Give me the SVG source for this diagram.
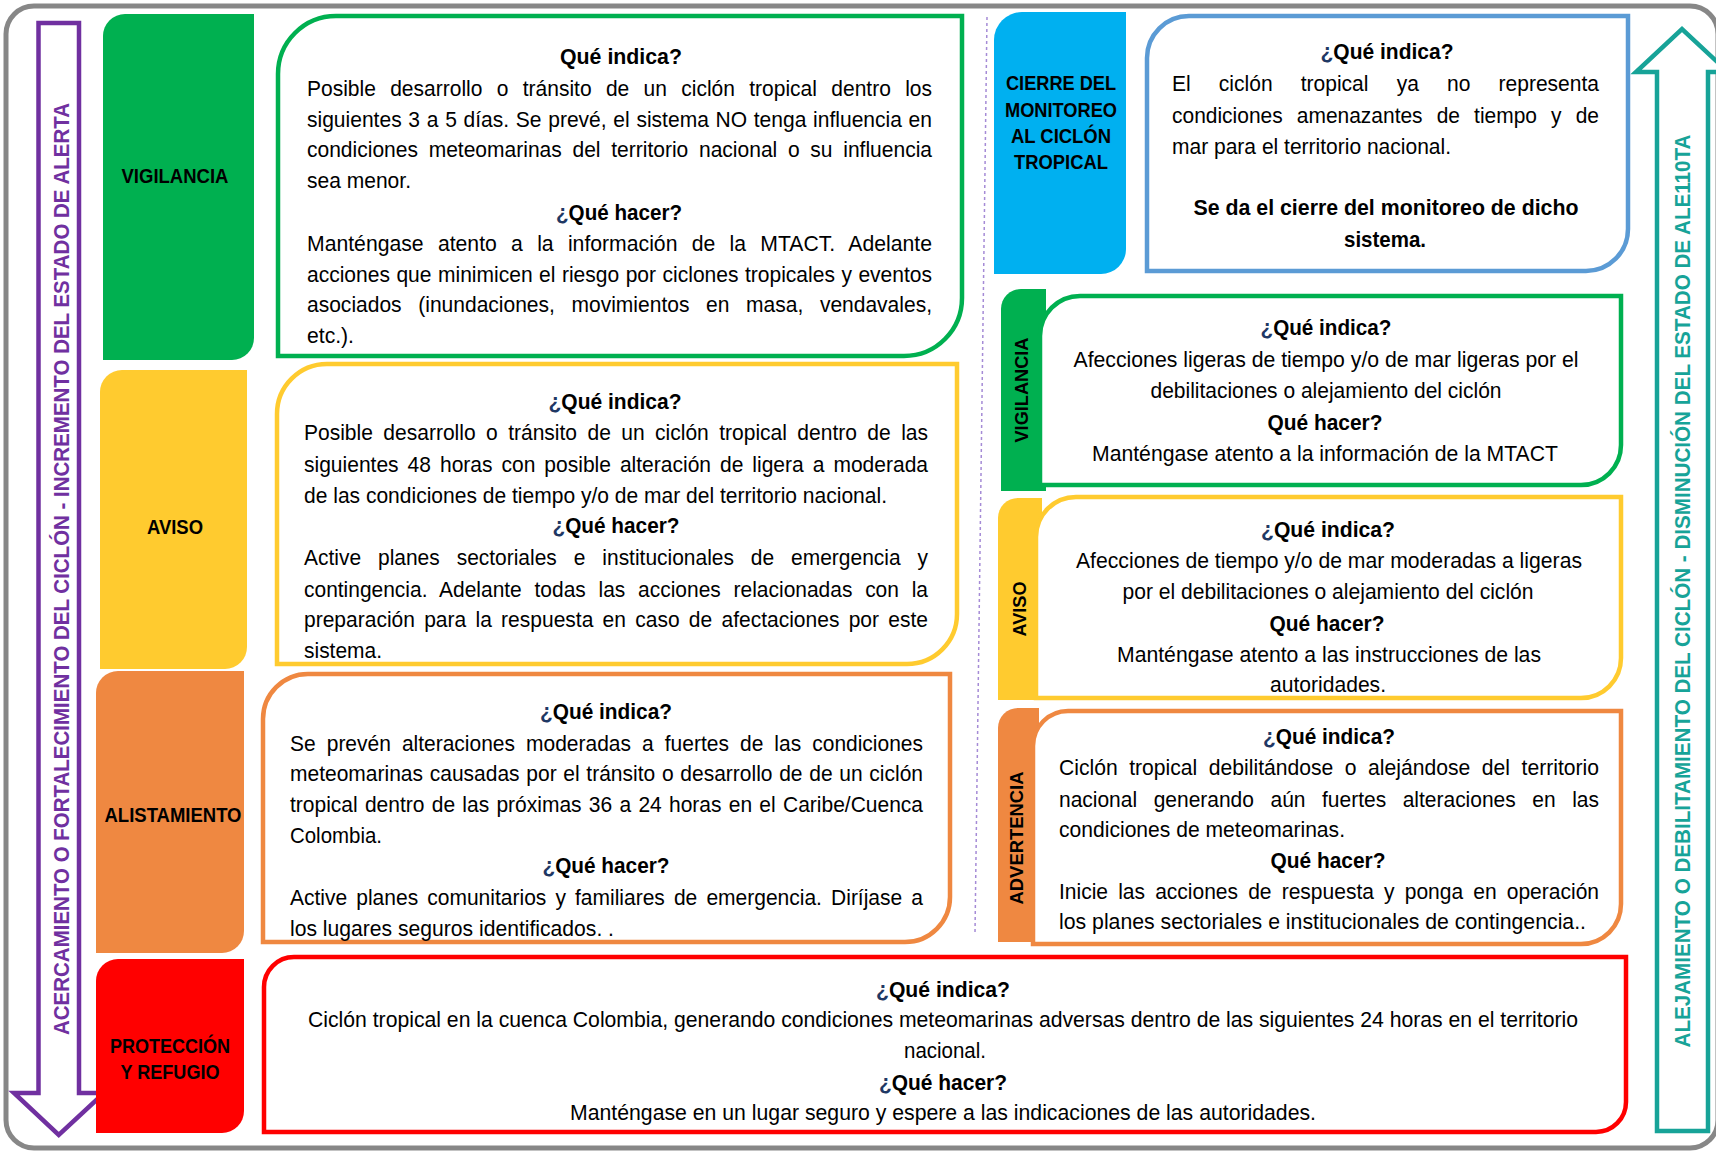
<svg xmlns="http://www.w3.org/2000/svg" width="1716" height="1153" viewBox="0 0 1716 1153">
<style>
.t{font-family:'Liberation Sans Narrow','Liberation Sans',sans-serif;font-size:22px;fill:#000}
.h{font-weight:bold}
.c{text-anchor:middle}
.q{fill:#1F3864}
.tab{font-family:'Liberation Sans Narrow','Liberation Sans',sans-serif;font-size:20px;font-weight:bold;text-anchor:middle;fill:#000}
.vt{font-family:'Liberation Sans',sans-serif;font-size:19px;font-weight:bold;text-anchor:middle;fill:#000}
.side{font-family:'Liberation Sans',sans-serif;font-weight:bold;text-anchor:middle}
.box{fill:#fff;stroke-width:4.5}
</style>
<rect x="0" y="0" width="1716" height="1153" fill="#fff"/>
<rect x="6" y="6" width="1712" height="1142" rx="28" fill="none" stroke="#878787" stroke-width="5"/>

<g id="connectors">
<line x1="987" y1="17" x2="975" y2="933" stroke="#A58BD6" stroke-width="1.5" stroke-dasharray="3 3"/>
</g>

<g id="arrow-incremento">
<path d="M38.5,23 H79 V1093 H104 L58.75,1135 L14,1093 H38.5 Z" fill="#fff" stroke="#7030A0" stroke-width="4.5"/>
<text class="side" font-size="22" fill="#7030A0" transform="translate(68.5,569) rotate(-90)" textLength="932" lengthAdjust="spacingAndGlyphs">ACERCAMIENTO O FORTALECIMIENTO DEL CICLÓN - INCREMENTO DEL ESTADO DE ALERTA</text>
</g>

<g id="arrow-disminucion">
<path d="M1657,1131 V72 H1636 L1682,29 L1728,72 H1708 V1131 Z" fill="#fff" stroke="#17A398" stroke-width="4.5"/>
<text class="side" font-size="22" fill="#17A398" transform="translate(1690,591) rotate(-90)" textLength="913" lengthAdjust="spacingAndGlyphs">ALEJAMIENTO O DEBILITAMIENTO  DEL CICLÓN - DISMINUCIÓN DEL ESTADO DE ALE110TA</text>
</g>

<!-- LEFT: VIGILANCIA -->
<g id="tab-vigilancia">
<path d="M103,36 A22,22 0 0 1 125,14 H254 V338 A22,22 0 0 1 232,360 H103 Z" fill="#00B050"/>
<text class="tab" x="175" y="183" textLength="107" lengthAdjust="spacingAndGlyphs">VIGILANCIA</text>
</g>
<g id="box-vigilancia">
<path class="box" stroke="#00B050" d="M278,74 A58,58 0 0 1 336,16 H962 V298 A58,58 0 0 1 904,356 H278 Z"/>
<text class="t h c" x="621" y="64" textLength="122" lengthAdjust="spacingAndGlyphs">Qué indica?</text>
<text class="t" x="307" y="96" word-spacing="8.9" textLength="625" lengthAdjust="spacingAndGlyphs">Posible desarrollo o tránsito de un ciclón tropical dentro los</text>
<text class="t" x="307" y="127" word-spacing="0.9" textLength="625" lengthAdjust="spacingAndGlyphs">siguientes 3 a 5 días. Se prevé, el sistema NO tenga influencia en</text>
<text class="t" x="307" y="157" word-spacing="5.1" textLength="625" lengthAdjust="spacingAndGlyphs">condiciones meteomarinas del territorio nacional o su influencia</text>
<text class="t" x="307" y="188" textLength="104" lengthAdjust="spacingAndGlyphs">sea menor.</text>
<text class="t h c" x="619" y="220" textLength="126" lengthAdjust="spacingAndGlyphs"><tspan class="q">¿</tspan>Qué hacer?</text>
<text class="t" x="307" y="251" word-spacing="8.7" textLength="625" lengthAdjust="spacingAndGlyphs">Manténgase atento a la información de la MTACT. Adelante</text>
<text class="t" x="307" y="282" word-spacing="0.7" textLength="625" lengthAdjust="spacingAndGlyphs">acciones que minimicen el riesgo por ciclones tropicales y eventos</text>
<text class="t" x="307" y="312" word-spacing="11.3" textLength="625" lengthAdjust="spacingAndGlyphs">asociados (inundaciones, movimientos en masa, vendavales,</text>
<text class="t" x="307" y="343" textLength="47" lengthAdjust="spacingAndGlyphs">etc.).</text>
</g>

<!-- LEFT: AVISO -->
<g id="tab-aviso">
<path d="M100,392 A22,22 0 0 1 122,370 H247 V647 A22,22 0 0 1 225,669 H100 Z" fill="#FFCB2F"/>
<text class="tab" x="175" y="534" textLength="56" lengthAdjust="spacingAndGlyphs">AVISO</text>
</g>
<g id="box-aviso">
<path class="box" stroke="#FFCB2F" d="M277,414 A50,50 0 0 1 327,364 H957 V614 A50,50 0 0 1 907,664 H277 Z"/>
<text class="t h c" x="615" y="409" textLength="133" lengthAdjust="spacingAndGlyphs"><tspan class="q">¿</tspan>Qué indica?</text>
<text class="t" x="304" y="440" word-spacing="4.8" textLength="624" lengthAdjust="spacingAndGlyphs">Posible desarrollo o tránsito de un ciclón tropical dentro de las</text>
<text class="t" x="304" y="472" word-spacing="3.3" textLength="624" lengthAdjust="spacingAndGlyphs">siguientes 48 horas con posible alteración de ligera a moderada</text>
<text class="t" x="304" y="503" textLength="583" lengthAdjust="spacingAndGlyphs">de las condiciones de tiempo y/o de mar del territorio nacional.</text>
<text class="t h c" x="616" y="533" textLength="127" lengthAdjust="spacingAndGlyphs"><tspan class="q">¿</tspan>Qué hacer?</text>
<text class="t" x="304" y="565" word-spacing="11.7" textLength="624" lengthAdjust="spacingAndGlyphs">Active planes sectoriales e institucionales de emergencia y</text>
<text class="t" x="304" y="597" word-spacing="7.3" textLength="624" lengthAdjust="spacingAndGlyphs">contingencia. Adelante todas las acciones relacionadas con la</text>
<text class="t" x="304" y="627" word-spacing="3.6" textLength="624" lengthAdjust="spacingAndGlyphs">preparación para la respuesta en caso de afectaciones por este</text>
<text class="t" x="304" y="658" textLength="78" lengthAdjust="spacingAndGlyphs">sistema.</text>
</g>

<!-- LEFT: ALISTAMIENTO -->
<g id="tab-alistamiento">
<path d="M96,693 A22,22 0 0 1 118,671 H244 V931 A22,22 0 0 1 222,953 H96 Z" fill="#EF8841"/>
<text class="tab" x="173" y="822" textLength="137" lengthAdjust="spacingAndGlyphs">ALISTAMIENTO</text>
</g>
<g id="box-alistamiento">
<path class="box" stroke="#EF8841" d="M263,719 A45,45 0 0 1 308,674 H950 V897 A45,45 0 0 1 905,942 H263 Z"/>
<text class="t h c" x="606" y="719" textLength="132" lengthAdjust="spacingAndGlyphs"><tspan class="q">¿</tspan>Qué indica?</text>
<text class="t" x="290" y="751" word-spacing="5.5" textLength="633" lengthAdjust="spacingAndGlyphs">Se prevén alteraciones moderadas a fuertes de las condiciones</text>
<text class="t" x="290" y="781" word-spacing="0.9" textLength="633" lengthAdjust="spacingAndGlyphs">meteomarinas causadas por el tránsito o desarrollo de de un ciclón</text>
<text class="t" x="290" y="812" word-spacing="1.5" textLength="633" lengthAdjust="spacingAndGlyphs">tropical dentro de las próximas 36 a 24  horas en el Caribe/Cuenca</text>
<text class="t" x="290" y="843" textLength="92" lengthAdjust="spacingAndGlyphs">Colombia.</text>
<text class="t h c" x="606" y="873" textLength="127" lengthAdjust="spacingAndGlyphs"><tspan class="q">¿</tspan>Qué hacer?</text>
<text class="t" x="290" y="905" word-spacing="3.4" textLength="633" lengthAdjust="spacingAndGlyphs">Active planes comunitarios y familiares de emergencia. Diríjase a</text>
<text class="t" x="290" y="936" textLength="324" lengthAdjust="spacingAndGlyphs">los lugares seguros identificados. .</text>
</g>

<!-- LEFT: PROTECCION -->
<g id="tab-proteccion">
<path d="M96,981 A22,22 0 0 1 118,959 H244 V1111 A22,22 0 0 1 222,1133 H96 Z" fill="#FF0000"/>
<text class="tab" x="170" y="1053" textLength="120" lengthAdjust="spacingAndGlyphs">PROTECCIÓN</text>
<text class="tab" x="170" y="1079" textLength="99" lengthAdjust="spacingAndGlyphs">Y REFUGIO</text>
</g>
<g id="box-proteccion">
<path class="box" stroke="#FF0000" d="M264,987 A30,30 0 0 1 294,957 H1626 V1102 A30,30 0 0 1 1596,1132 H264 Z"/>
<text class="t h c" x="943" y="997" textLength="134" lengthAdjust="spacingAndGlyphs"><tspan class="q">¿</tspan>Qué indica?</text>
<text class="t c" x="943" y="1027" textLength="1270" lengthAdjust="spacingAndGlyphs">Ciclón tropical en la cuenca Colombia, generando condiciones meteomarinas adversas dentro de las siguientes 24 horas en el territorio</text>
<text class="t c" x="945" y="1058" textLength="82" lengthAdjust="spacingAndGlyphs">nacional.</text>
<text class="t h c" x="943" y="1090" textLength="128" lengthAdjust="spacingAndGlyphs"><tspan class="q">¿</tspan>Qué hacer?</text>
<text class="t c" x="943" y="1120" textLength="746" lengthAdjust="spacingAndGlyphs">Manténgase en un lugar seguro y espere a las indicaciones de las autoridades.</text>
</g>

<!-- RIGHT: CIERRE -->
<g id="tab-cierre">
<path d="M994,40 A28,28 0 0 1 1022,12 H1126 V249 A25,25 0 0 1 1101,274 H994 Z" fill="#00B0F0"/>
<text class="tab" x="1061" y="90" textLength="110" lengthAdjust="spacingAndGlyphs">CIERRE DEL</text>
<text class="tab" x="1061" y="117" textLength="112" lengthAdjust="spacingAndGlyphs">MONITOREO</text>
<text class="tab" x="1061" y="143" textLength="100" lengthAdjust="spacingAndGlyphs">AL CICLÓN</text>
<text class="tab" x="1061" y="169" textLength="94" lengthAdjust="spacingAndGlyphs">TROPICAL</text>
</g>
<g id="box-cierre">
<path class="box" stroke="#5B9BD5" d="M1147,58 A42,42 0 0 1 1189,16 H1628 V229 A42,42 0 0 1 1586,271 H1147 Z"/>
<text class="t h c" x="1387" y="59" textLength="133" lengthAdjust="spacingAndGlyphs"><tspan class="q">¿</tspan>Qué indica?</text>
<text class="t" x="1172" y="91" word-spacing="23.4" textLength="427" lengthAdjust="spacingAndGlyphs">El ciclón tropical ya no representa</text>
<text class="t" x="1172" y="123" word-spacing="8.7" textLength="427" lengthAdjust="spacingAndGlyphs">condiciones amenazantes de tiempo y de</text>
<text class="t" x="1172" y="154" textLength="279" lengthAdjust="spacingAndGlyphs">mar para el territorio nacional.</text>
<text class="t h c" x="1386" y="215" textLength="385" lengthAdjust="spacingAndGlyphs">Se da el cierre del monitoreo de dicho</text>
<text class="t h c" x="1385" y="247" textLength="82" lengthAdjust="spacingAndGlyphs">sistema.</text>
</g>

<!-- RIGHT: VIGILANCIA -->
<g id="tab-vigilancia-r">
<path d="M1001,309 A20,20 0 0 1 1021,289 H1046 V491 H1001 Z" fill="#00B050"/>
<text class="vt" transform="translate(1028,390) rotate(-90)" textLength="105" lengthAdjust="spacingAndGlyphs">VIGILANCIA</text>
</g>
<g id="box-vigilancia-r">
<path class="box" stroke="#00B050" d="M1040,336 A40,40 0 0 1 1080,296 H1621 V445 A40,40 0 0 1 1581,485 H1040 Z"/>
<text class="t h c" x="1326" y="335" textLength="131" lengthAdjust="spacingAndGlyphs"><tspan class="q">¿</tspan>Qué indica?</text>
<text class="t c" x="1326" y="367" textLength="505" lengthAdjust="spacingAndGlyphs">Afecciones ligeras de tiempo y/o de mar ligeras por el</text>
<text class="t c" x="1326" y="398" textLength="351" lengthAdjust="spacingAndGlyphs">debilitaciones o alejamiento del ciclón</text>
<text class="t h c" x="1325" y="430" textLength="115" lengthAdjust="spacingAndGlyphs">Qué hacer?</text>
<text class="t c" x="1325" y="461" textLength="466" lengthAdjust="spacingAndGlyphs">Manténgase atento a la información de la MTACT</text>
</g>

<!-- RIGHT: AVISO -->
<g id="tab-aviso-r">
<path d="M998,518 A20,20 0 0 1 1018,498 H1042 V700 H998 Z" fill="#FFCB2F"/>
<text class="vt" transform="translate(1026,609) rotate(-90)" textLength="55" lengthAdjust="spacingAndGlyphs">AVISO</text>
</g>
<g id="box-aviso-r">
<path class="box" stroke="#FFCB2F" d="M1036,537 A40,40 0 0 1 1076,497 H1621 V658 A40,40 0 0 1 1581,698 H1036 Z"/>
<text class="t h c" x="1328" y="537" textLength="134" lengthAdjust="spacingAndGlyphs"><tspan class="q">¿</tspan>Qué indica?</text>
<text class="t c" x="1329" y="568" textLength="506" lengthAdjust="spacingAndGlyphs">Afecciones de tiempo y/o de mar moderadas a ligeras</text>
<text class="t c" x="1328" y="599" textLength="411" lengthAdjust="spacingAndGlyphs">por el debilitaciones o alejamiento del ciclón</text>
<text class="t h c" x="1327" y="631" textLength="115" lengthAdjust="spacingAndGlyphs">Qué hacer?</text>
<text class="t c" x="1329" y="662" textLength="424" lengthAdjust="spacingAndGlyphs">Manténgase atento a las instrucciones de las</text>
<text class="t c" x="1328" y="692" textLength="116" lengthAdjust="spacingAndGlyphs">autoridades.</text>
</g>

<!-- RIGHT: ADVERTENCIA -->
<g id="tab-advertencia">
<path d="M998,728 A20,20 0 0 1 1018,708 H1039 V942 H998 Z" fill="#EF8841"/>
<text class="vt" transform="translate(1023,838) rotate(-90)" textLength="133" lengthAdjust="spacingAndGlyphs">ADVERTENCIA</text>
</g>
<g id="box-advertencia">
<path class="box" stroke="#EF8841" d="M1033,746 A35,35 0 0 1 1068,711 H1621 V904 A40,40 0 0 1 1581,944 H1033 Z"/>
<text class="t h c" x="1329" y="744" textLength="132" lengthAdjust="spacingAndGlyphs"><tspan class="q">¿</tspan>Qué indica?</text>
<text class="t" x="1059" y="775" word-spacing="5.9" textLength="540" lengthAdjust="spacingAndGlyphs">Ciclón tropical debilitándose o alejándose del territorio</text>
<text class="t" x="1059" y="807" word-spacing="11.3" textLength="540" lengthAdjust="spacingAndGlyphs">nacional generando aún fuertes alteraciones en las</text>
<text class="t" x="1059" y="837" textLength="286" lengthAdjust="spacingAndGlyphs">condiciones de meteomarinas.</text>
<text class="t h c" x="1328" y="868" textLength="115" lengthAdjust="spacingAndGlyphs">Qué hacer?</text>
<text class="t" x="1059" y="899" word-spacing="4.5" textLength="540" lengthAdjust="spacingAndGlyphs">Inicie las acciones de respuesta y ponga en operación</text>
<text class="t" x="1059" y="929" textLength="527" lengthAdjust="spacingAndGlyphs">los planes sectoriales e institucionales de contingencia..</text>
</g>
</svg>
